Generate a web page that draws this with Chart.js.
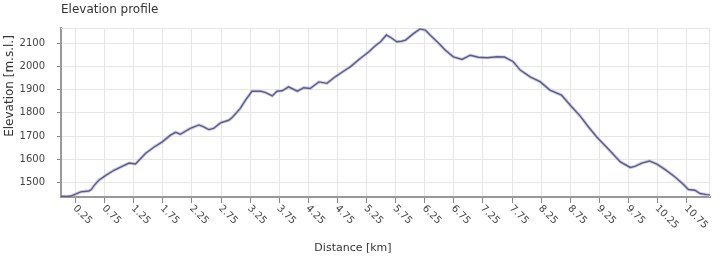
<!DOCTYPE html>
<html>
<head>
<meta charset="utf-8">
<script src="https://cdn.jsdelivr.net/npm/chart.js@4.4.1/dist/chart.umd.min.js"></script>
<style>
  html, body { margin: 0; padding: 0; background: #fff; }
  #wrap { width: 720px; height: 260px; position: relative; }
</style>
</head>
<body>
<div id="wrap"><canvas id="profileChart"></canvas></div>
<script>
// distance along the track (km) and elevation (m)
const distKm = [0.00, 0.10, 0.17, 0.25, 0.34, 0.48, 0.52, 0.57, 0.65, 0.77, 0.91, 1.05, 1.17, 1.28, 1.34, 1.45, 1.60, 1.74, 1.88, 1.97, 2.05, 2.22, 2.37, 2.45, 2.54, 2.62, 2.74, 2.88, 2.94, 3.08, 3.17, 3.28, 3.43, 3.51, 3.63, 3.71, 3.80, 3.91, 4.06, 4.17, 4.28, 4.43, 4.57, 4.71, 4.86, 4.97, 5.14, 5.29, 5.40, 5.49, 5.59, 5.66, 5.77, 5.85, 5.92, 6.06, 6.17, 6.26, 6.34, 6.49, 6.60, 6.74, 6.89, 7.03, 7.17, 7.32, 7.49, 7.62, 7.77, 7.89, 8.06, 8.23, 8.40, 8.60, 8.75, 8.92, 9.06, 9.20, 9.42, 9.61, 9.78, 9.86, 9.98, 10.11, 10.24, 10.38, 10.55, 10.69, 10.78, 10.89, 10.98, 11.09, 11.15];
const elevation = [1441, 1440, 1442, 1450, 1460, 1464, 1470, 1488, 1510, 1531, 1553, 1570, 1584, 1580, 1596, 1625, 1653, 1675, 1704, 1716, 1708, 1733, 1748, 1740, 1728, 1733, 1757, 1768, 1780, 1819, 1855, 1893, 1893, 1888, 1873, 1893, 1895, 1912, 1893, 1908, 1905, 1933, 1927, 1955, 1980, 1998, 2034, 2063, 2089, 2106, 2135, 2125, 2106, 2108, 2113, 2142, 2161, 2156, 2135, 2099, 2070, 2041, 2030, 2048, 2039, 2037, 2041, 2040, 2020, 1984, 1955, 1934, 1898, 1876, 1833, 1786, 1740, 1697, 1640, 1589, 1565, 1570, 1584, 1593, 1579, 1556, 1524, 1493, 1470, 1467, 1453, 1448, 1447];

const xTicks = [0.25, 0.75, 1.25, 1.75, 2.25, 2.75, 3.25, 3.75, 4.25, 4.75, 5.25, 5.75, 6.25, 6.75, 7.25, 7.75, 8.25, 8.75, 9.25, 9.75, 10.25, 10.75];
const xTickLabels = ['0.25', '0.75', '1.25', '1.75', '2.25', '2.75', '3.25', '3.75', '4.25', '4.75', '5.25', '5.75', '6.25', '6.75', '7.25', '7.75', '8.25', '8.75', '9.25', '9.75', '10.25', '10.75'];
const yTicks = [1500, 1600, 1700, 1800, 1900, 2000, 2100];

const points = distKm.map((d, i) => ({ x: d, y: elevation[i] }));

Chart.defaults.font.family = '"DejaVu Sans", sans-serif';
Chart.defaults.color = '#444';

// texte, étiquettes inclinées et cadre
const decorPlugin = {
    id: 'decor',
    beforeDatasetsDraw(chart) {
        const { ctx, chartArea: a } = chart;
        ctx.save();
        ctx.strokeStyle = '#e6e6e6';
        ctx.lineWidth = 1;
        ctx.beginPath();
        ctx.moveTo(a.left, a.top + 0.5);
        ctx.lineTo(a.right - 0.5, a.top + 0.5);
        ctx.lineTo(a.right - 0.5, a.bottom);
        ctx.stroke();
        ctx.restore();
    },
    afterDraw(chart) {
        const { ctx } = chart;
        const xs = chart.scales.x;
        ctx.save();
        ctx.fillStyle = '#333';
        ctx.font = '12px "DejaVu Sans"';
        ctx.textAlign = 'left';
        ctx.textBaseline = 'middle';
        ctx.fillText('Elevation profile', 61, 10);

        ctx.save();
        ctx.translate(10, 86);
        ctx.rotate(-Math.PI / 2);
        ctx.textAlign = 'center';
        ctx.fillText('Elevation [m.s.l.]', 0, 0);
        ctx.restore();

        ctx.font = '11px "DejaVu Sans"';
        ctx.textAlign = 'center';
        ctx.fillText('Distance [km]', 353, 248);

        ctx.fillStyle = '#444';
        ctx.font = '10px "DejaVu Sans"';
        ctx.textAlign = 'left';
        xTicks.forEach((v, i) => {
            const px = xs.getPixelForValue(v);
            ctx.save();
            ctx.translate(px - 1, 207);
            ctx.rotate(Math.PI / 4);
            ctx.fillText(xTickLabels[i], 0, 0);
            ctx.restore();
        });
        ctx.restore();
    }
};

new Chart(document.getElementById('profileChart'), {
    type: 'line',
    data: {
        datasets: [{
            data: points,
            borderColor: '#5c5c84',
            borderWidth: 1.4,
            pointRadius: 0,
            tension: 0
        }, {
            data: points,
            borderColor: 'rgba(170, 170, 225, 0.6)',
            borderWidth: 3.2,
            pointRadius: 0,
            tension: 0
        }]
    },
    options: {
        responsive: true,
        maintainAspectRatio: false,
        animation: false,
        events: [],
        layout: { padding: { top: 28, right: 10, left: 0, bottom: 0 } },
        plugins: {
            legend: { display: false },
            tooltip: { enabled: false }
        },
        scales: {
            x: {
                type: 'linear',
                min: 0,
                max: 11.15,
                afterBuildTicks: scale => { scale.ticks = xTicks.map(v => ({ value: v })); },
                afterFit: scale => { scale.height = 63; },
                ticks: { display: false },
                grid: { color: '#e6e6e6', tickColor: '#888', tickLength: 6 },
                border: { color: '#999', width: 2 }
            },
            y: {
                min: 1438,
                max: 2165,
                afterBuildTicks: scale => { scale.ticks = yTicks.map(v => ({ value: v })); },
                afterFit: scale => { scale.width = 61; },
                ticks: { padding: 12, font: { size: 10 }, color: '#444', callback: v => String(v) },
                grid: { color: '#e6e6e6', tickColor: '#888', tickLength: 4 },
                border: { color: '#999', width: 2 }
            }
        }
    },
    plugins: [decorPlugin]
});
</script>
</body>
</html>
